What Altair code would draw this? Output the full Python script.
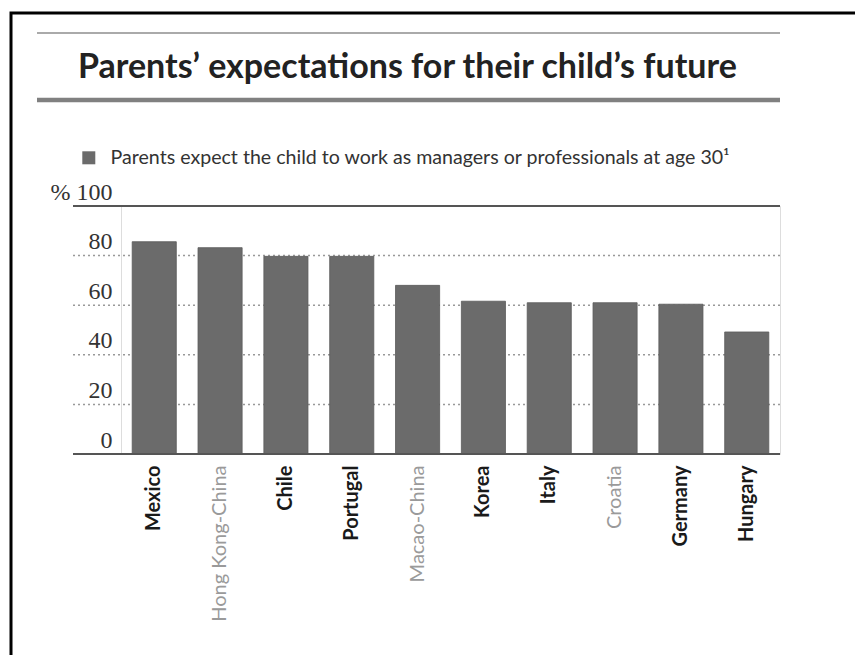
import altair as alt
import pandas as pd

countries = ["Mexico", "Hong Kong-China", "Chile", "Portugal", "Macao-China",
             "Korea", "Italy", "Croatia", "Germany", "Hungary"]
values = [85.6, 83.2, 79.7, 79.7, 68.0, 61.6, 61.0, 61.0, 60.4, 49.2]
partners = ["Hong Kong-China", "Macao-China", "Croatia"]
series_name = "Parents expect the child to work as managers or professionals at age 30\u00b9"
title_text = "Parents\u2019 expectations for their child\u2019s future"
grid_values = [20, 40, 60, 80]
edge_values = [0, 100]
tick_values = [0, 20, 40, 60, 80, 100]

df = pd.DataFrame({"country": countries, "value": values,
                   "series": [series_name] * len(countries)})
grid_df = pd.DataFrame({"v": grid_values})
edge_df = pd.DataFrame({"v": edge_values})
one = pd.DataFrame({"k": [0]})

W, H = 659, 248

yscale = alt.Scale(domain=[0, 100], nice=False)
yaxis = alt.Axis(values=tick_values, title=None, domain=False, ticks=False, grid=False,
                 labelFont="Liberation Serif", labelFontSize=24, labelColor="#333333",
                 labelBaseline="alphabetic", labelOffset=-7, labelPadding=9,
                 labelExpr="datum.value == 100 ? '% 100' : datum.label")

frame = alt.Chart(one).mark_rect(fillOpacity=0, stroke="black", strokeWidth=3).encode(
    x=alt.value(-110), x2=alt.value(760), y=alt.value(-193), y2=alt.value(470))

thin = alt.Chart(one).mark_rule(color="#aaaaaa", strokeWidth=2).encode(
    x=alt.value(-84), x2=alt.value(W), y=alt.value(-173))

title = alt.Chart(one).mark_text(align="left", baseline="alphabetic", font="Lato",
                                 fontWeight="bold", fontSize=34, color="#222222").encode(
    x=alt.value(-43), y=alt.value(-128), text=alt.value(title_text))

thick = alt.Chart(one).mark_rule(color="#808080", strokeWidth=4.5).encode(
    x=alt.value(-84), x2=alt.value(W), y=alt.value(-106))

grid = alt.Chart(grid_df).mark_rule(color="#999999", strokeWidth=1.5, strokeDash=[2, 3]).encode(
    x=alt.value(-48), x2=alt.value(W),
    y=alt.Y("v:Q", scale=yscale, axis=yaxis))

bars = alt.Chart(df).mark_bar(stroke="#5a5a5a", strokeWidth=0.8).encode(
    x=alt.X("country:N", sort=None, title=None,
            scale=alt.Scale(paddingInner=0.33, paddingOuter=0.17),
            axis=alt.Axis(labelAngle=-90, domain=False, ticks=False, labelPadding=11,
                          labelFont="Lato", labelFontSize=20, labelLimit=0,
                          labelColor=alt.condition(
                              "indexof(" + str(partners) + ", datum.value) >= 0",
                              alt.value("#9a9a9a"), alt.value("#1a1a1a")),
                          labelFontWeight=alt.condition(
                              "indexof(" + str(partners) + ", datum.value) >= 0",
                              alt.value("normal"), alt.value("bold")))),
    y=alt.Y("value:Q", scale=yscale, axis=yaxis),
    color=alt.Color("series:N", scale=alt.Scale(range=["#6b6b6b"]),
                    legend=alt.Legend(orient="none", legendX=-42, legendY=-58, title=None,
                                      symbolType="square", symbolSize=169, symbolStrokeWidth=0,
                                      labelFont="Lato", labelFontSize=19.6, labelColor="#333333",
                                      labelOffset=12, padding=0, labelLimit=0)))

edges = alt.Chart(edge_df).mark_rule(color="#555555", strokeWidth=2).encode(
    x=alt.value(-48), x2=alt.value(W),
    y=alt.Y("v:Q", scale=yscale, axis=yaxis))

chart = alt.layer(frame, thin, title, thick, grid, bars, edges).properties(
    width=W, height=H,
    padding={"left": 121, "top": 206, "right": 75, "bottom": 201},
    autosize=alt.AutoSizeParams(type="none"),
).configure_view(fill="#f1f1f1", stroke="#555555", strokeWidth=2
).configure(background="white")

chart.save("out.html", embed_options={"renderer": "svg", "actions": False})
